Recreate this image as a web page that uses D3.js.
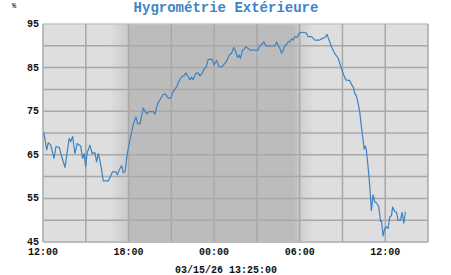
<!DOCTYPE html>
<html>
<head>
<meta charset="utf-8">
<script src="https://cdn.jsdelivr.net/npm/d3@7"></script>
<style>
  body { margin: 0; background: #fff; }
  svg { display: block; }
  text { font-family: "Liberation Mono", "Courier New", monospace; font-weight: bold; }
</style>
</head>
<body>
<div id="vis"></div>
<script>
// hours elapsed since 03/14/26 12:00
var hours = [0.0, 0.07, 0.26, 0.37, 0.54, 0.77, 0.91, 1.14, 1.31, 1.54, 1.84, 1.94, 2.08, 2.24, 2.40,
  2.64, 2.78, 2.89, 2.99, 3.10, 3.29, 3.45, 3.64, 3.76, 3.88, 3.99, 4.11, 4.23, 4.58, 4.88,
  5.12, 5.21, 5.40, 5.52, 5.63, 5.75, 5.91, 6.10, 6.22, 6.33, 6.52, 6.64, 6.80, 7.03, 7.27,
  7.43, 7.73, 7.85, 8.04, 8.20, 8.43, 8.60, 8.78, 8.97, 9.13, 9.37, 9.53, 9.72, 9.88, 10.02,
  10.18, 10.30, 10.42, 10.53, 10.72, 10.88, 11.00, 11.16, 11.30, 11.47, 11.58, 11.86, 12.00, 12.17, 12.35,
  12.56, 12.71, 12.87, 13.06, 13.22, 13.38, 13.52, 13.64, 13.76, 13.85, 13.99, 14.11, 14.23, 14.39, 14.51,
  14.86, 15.09, 15.16, 15.33, 15.49, 15.63, 16.03, 16.26, 16.38, 16.49, 16.61, 16.73, 16.84, 16.96, 17.08,
  17.19, 17.31, 17.43, 17.54, 17.66, 17.82, 17.96, 18.24, 18.48, 18.59, 18.83, 19.06, 19.41, 19.53, 19.76,
  19.92, 20.06, 20.23, 20.39, 20.53, 20.69, 20.93, 21.09, 21.23, 21.51, 21.63, 21.79, 21.86, 21.98, 22.10,
  22.21, 22.33, 22.45, 22.52, 22.61, 22.68, 22.75, 22.84, 22.92, 23.03, 23.15, 23.27, 23.38, 23.55, 23.67,
  23.74, 23.85, 23.97, 24.09, 24.20, 24.32, 24.44, 24.51, 24.67, 24.79, 24.90, 25.07, 25.18, 25.30, 25.42];

var humidity = [70.0, 69.9, 66.1, 67.8, 67.2, 64.2, 66.9, 66.7, 64.6, 62.1, 68.8, 68.0, 69.2, 65.3, 67.6,
  67.0, 64.2, 65.3, 62.3, 65.5, 67.2, 65.3, 65.5, 63.4, 65.3, 63.8, 61.5, 59.0, 59.0, 61.1,
  61.1, 60.4, 61.9, 62.5, 60.9, 61.1, 65.3, 68.5, 70.2, 72.0, 73.7, 72.1, 72.1, 75.7, 74.4,
  74.9, 74.9, 74.3, 76.8, 77.6, 78.9, 78.9, 78.0, 78.0, 79.5, 80.6, 81.8, 82.9, 83.1, 83.8,
  82.9, 82.2, 82.8, 82.2, 83.7, 83.8, 83.1, 83.7, 84.6, 85.4, 86.9, 86.9, 85.6, 86.7, 85.2,
  85.2, 85.8, 86.4, 87.9, 88.3, 89.6, 88.7, 87.3, 87.9, 87.1, 89.0, 89.2, 89.8, 89.4, 89.0,
  89.0, 89.0, 89.8, 90.3, 90.9, 90.0, 90.0, 90.0, 90.9, 90.1, 89.4, 88.3, 89.0, 90.0, 90.3,
  90.9, 90.9, 91.6, 91.3, 92.1, 91.9, 92.9, 93.1, 92.9, 92.1, 92.1, 91.3, 91.3, 91.6, 91.9,
  92.6, 91.3, 89.8, 88.7, 87.9, 87.2, 84.8, 83.3, 82.2, 82.0, 81.2, 80.3, 79.1, 78.5, 76.8,
  74.9, 71.4, 68.4, 66.3, 67.0, 66.1, 63.8, 60.8, 57.7, 52.2, 55.8, 54.2, 54.0, 53.1, 49.7,
  49.9, 46.4, 48.1, 48.5, 48.1, 50.8, 51.0, 53.0, 52.0, 51.8, 50.0, 50.0, 51.8, 49.3, 52.0];

var yTicks = [95, 85, 75, 65, 55, 45];
var title = "Hygrométrie Extérieure";
var unit = "%";
var stamp = "03/15/26 13:25:00";

var width = 451, height = 275;
var margin = {top: 24, right: 23, bottom: 33, left: 43};
var start = new Date(2026, 2, 14, 12, 0);
var end = d3.timeHour.offset(start, 27);

function toDate(h) { return new Date(start.getTime() + h * 3600000); }

var data = hours.map((h, i) => ({t: toDate(h), v: humidity[i]}));

var x = d3.scaleTime().domain([start, end]).range([margin.left, width - margin.right]);
var y = d3.scaleLinear().domain([45, 95]).range([height - margin.bottom, margin.top]);

var svg = d3.select('#vis').append('svg')
  .attr('width', width)
  .attr('height', height);

// day / night background
var light = '#dedede', dark = '#bcbcbc';
var grad = svg.append('defs').append('linearGradient')
  .attr('id', 'night')
  .attr('gradientUnits', 'userSpaceOnUse')
  .attr('x1', x(start)).attr('x2', x(end))
  .attr('y1', 0).attr('y2', 0);

var span = x(end) - x(start);
function off(h) { return (x(toDate(h)) - x(start)) / span; }
[[0, light], [4.7, light], [5.99, '#c9c9c9'], [6.0, dark], [17.55, dark],
 [17.95, '#c6c6c6'], [18.0, '#cfcfcf'], [19.0, light], [27, light]]
  .forEach(s => grad.append('stop').attr('offset', off(s[0])).attr('stop-color', s[1]));

svg.append('rect')
  .attr('x', x(start)).attr('y', y(95))
  .attr('width', span).attr('height', y(45) - y(95))
  .attr('fill', 'url(#night)');

// grid
svg.append('g')
  .selectAll('line')
  .data(d3.range(45, 96, 5))
  .enter().append('line')
  .attr('x1', x(start)).attr('x2', x(end))
  .attr('y1', d => y(d)).attr('y2', d => y(d))
  .attr('stroke', d => d == 95 ? '#c4c4c4' : (d == 45 ? '#bdbdbd' : '#a8a8a8'))
  .attr('stroke-width', d => d == 45 ? 2 : 1.5);

svg.append('g')
  .selectAll('line')
  .data(d3.timeHour.every(3).range(start, d3.timeHour.offset(end, 1)))
  .enter().append('line')
  .attr('x1', d => x(d)).attr('x2', d => x(d))
  .attr('y1', y(95)).attr('y2', y(45))
  .attr('stroke', '#a8a8a8')
  .attr('stroke-width', 1.5);

// line
var line = d3.line()
  .x(d => x(d.t))
  .y(d => y(d.v));

svg.append('path')
  .datum(data)
  .attr('d', line)
  .attr('fill', 'none')
  .attr('stroke', '#3e82c2')
  .attr('stroke-width', 1.2)
  .attr('stroke-linejoin', 'round');

// y labels
svg.append('g')
  .selectAll('text')
  .data(yTicks)
  .enter().append('text')
  .attr('x', 39)
  .attr('y', d => y(d) + 3)
  .attr('text-anchor', 'end')
  .attr('font-size', 10)
  .attr('fill', '#111')
  .text(d => d);

// x labels
var fmt = d3.timeFormat('%H:%M');
svg.append('g')
  .selectAll('text')
  .data(d3.timeHour.every(6).range(start, end))
  .enter().append('text')
  .attr('x', d => x(d))
  .attr('y', 255)
  .attr('text-anchor', 'middle')
  .attr('font-size', 10)
  .attr('fill', '#111')
  .text(d => fmt(d));

svg.append('text')
  .attr('x', 226).attr('y', 12)
  .attr('text-anchor', 'middle')
  .attr('font-size', 14)
  .attr('fill', '#3d84c6')
  .text(title);

svg.append('text')
  .attr('x', 12).attr('y', 8)
  .attr('font-size', 7)
  .attr('fill', '#333')
  .text(unit);

svg.append('text')
  .attr('x', 226).attr('y', 273)
  .attr('text-anchor', 'middle')
  .attr('font-size', 10)
  .attr('fill', '#111')
  .text(stamp);
</script>
</body>
</html>
